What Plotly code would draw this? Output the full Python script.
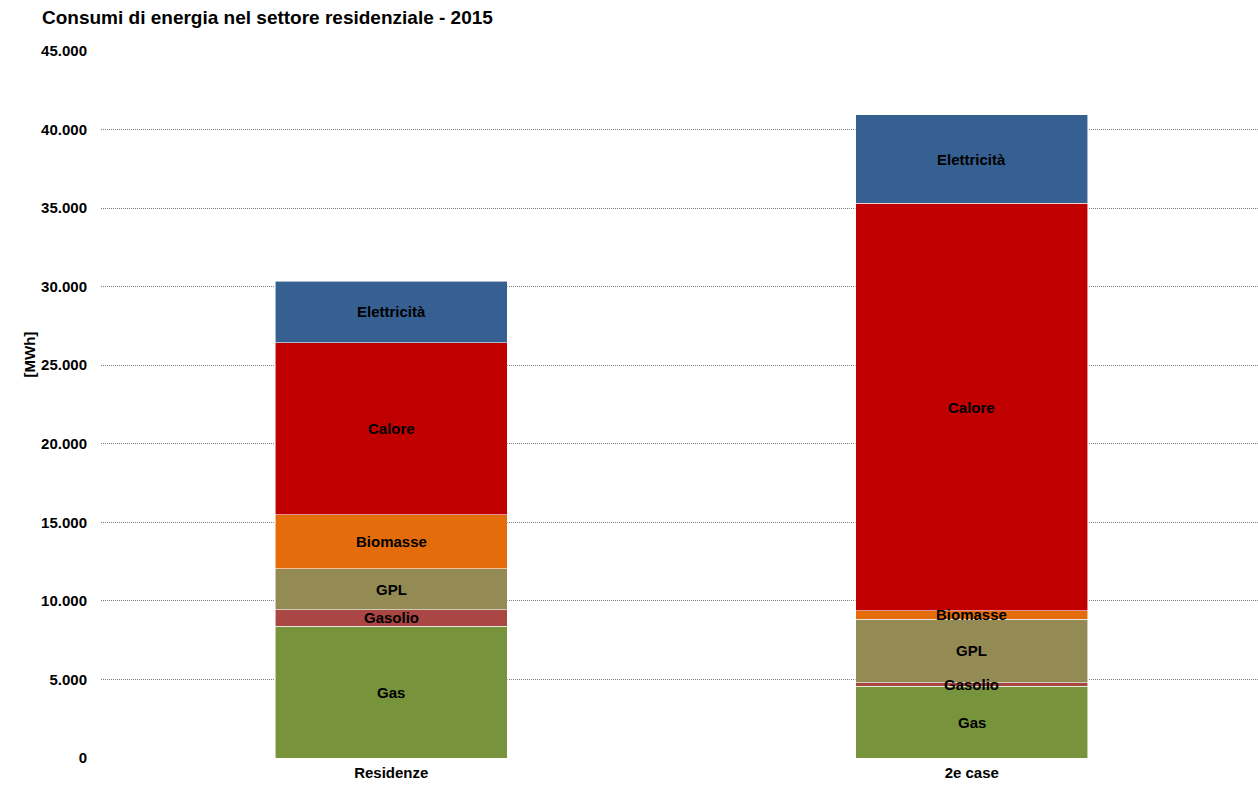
import plotly.graph_objects as go

categories = ["Residenze", "2e case"]
series_names = ["Gas", "Gasolio", "GPL", "Biomasse", "Calore", "Elettricità"]
gas = [8400, 4570]
gasolio = [1040, 220]
gpl = [2600, 4050]
biomasse = [3440, 530]
calore = [10950, 25940]
elettricita = [3920, 5620]
colors = ["#77933C", "#AA4643", "#948A54", "#E46C0A", "#C00000", "#376092"]
tick_vals = [0, 5000, 10000, 15000, 20000, 25000, 30000, 35000, 40000, 45000]

values = [gas, gasolio, gpl, biomasse, calore, elettricita]
FONT = "Liberation Sans"
W, H = 1262, 785

fig = go.Figure()
for name, vals, col in zip(series_names, values, colors):
    fig.add_trace(go.Bar(
        x=categories, y=vals, name=name,
        marker=dict(color=col, line=dict(color="rgba(255,255,255,0.7)", width=0.8)),
        hoverinfo="x+y+name",
    ))

# segment labels drawn on top of all bars (centred in each segment)
base = [0] * len(categories)
for name, vals in zip(series_names, values):
    for i, (cat, v) in enumerate(zip(categories, vals)):
        fig.add_annotation(
            x=cat, y=base[i] + v / 2, text=name, showarrow=False,
            xref="x", yref="y",
            font=dict(family=FONT, size=15, color="black", weight="bold"),
        )
        base[i] += v

fig.update_layout(
    barmode="stack",
    bargap=0.6,
    width=W, height=H,
    margin=dict(l=101, r=0, t=51, b=27),
    paper_bgcolor="white", plot_bgcolor="white",
    showlegend=False,
    separators=",.",
    title=dict(text="Consumi di energia nel settore residenziale - 2015",
               font=dict(family=FONT, size=19, color="black", weight="bold"),
               xref="container", x=42/W, xanchor="left",
               yref="container", y=1-17/H, yanchor="middle"),
    font=dict(family=FONT, color="black"),
)
fig.update_yaxes(
    range=[0, 45000], tickvals=tick_vals, tickformat=",d",
    showgrid=True, gridcolor="#808080", griddash="1px,1px", gridwidth=1,
    zeroline=False, showline=False, ticks="", ticklabelstandoff=13,
    tickfont=dict(family=FONT, size=15, color="black", weight="bold"),
)
fig.update_xaxes(
    showline=False, ticks="", ticklabelstandoff=4,
    tickfont=dict(family=FONT, size=15, color="black", weight="bold"),
)
fig.add_annotation(
    text="[MWh]", textangle=-90, xref="paper", yref="paper",
    x=(18-101)/1161, y=(758-355)/707, showarrow=False,
    font=dict(family=FONT, size=15, color="black", weight="bold"),
)
fig.write_html("out.html", config={"displayModeBar": False},
               post_script="document.body.style.margin='0';document.body.style.overflow='hidden';")
